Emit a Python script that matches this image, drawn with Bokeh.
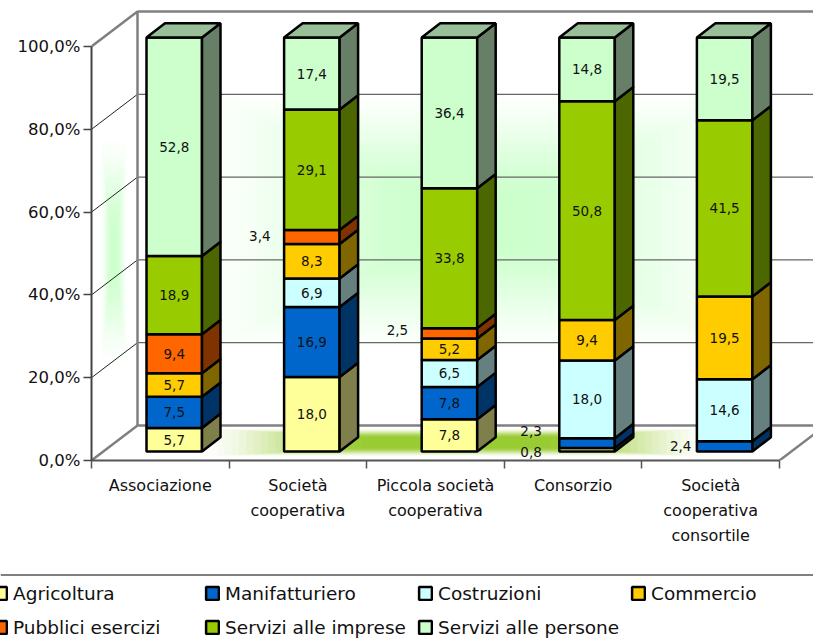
from bokeh.plotting import figure, ColumnDataSource
from bokeh.layouts import column
from bokeh.models import (Range1d, FixedTicker, LegendItem, Legend)
from bokeh.core.properties import value
from bokeh.embed import file_html
from bokeh.resources import INLINE

categories = ["Associazione", "Società\ncooperativa", "Piccola società\ncooperativa",
              "Consorzio", "Società\ncooperativa\nconsortile"]
agricoltura = [5.7, 18.0, 7.8, 0.8, 0.0]
manifatturiero = [7.5, 16.9, 7.8, 2.3, 2.4]
costruzioni = [0.0, 6.9, 6.5, 18.0, 14.6]
commercio = [5.7, 8.3, 5.2, 9.4, 19.5]
pubblici = [9.4, 3.4, 2.5, 0.0, 0.0]
imprese = [18.9, 29.1, 33.8, 50.8, 41.5]
persone = [52.8, 17.4, 36.4, 14.8, 19.5]
series_names = ["Agricoltura", "Manifatturiero", "Costruzioni", "Commercio",
                "Pubblici esercizi", "Servizi alle imprese", "Servizi alle persone"]
series_values = [agricoltura, manifatturiero, costruzioni, commercio, pubblici, imprese, persone]
series_colors = ["#FFFF99", "#0066CC", "#CCFFFF", "#FFCC00", "#FF6600", "#99CC00", "#CCFFCC"]
y_ticks = [0, 20, 40, 60, 80, 100]

FONT = "DejaVu Sans"
W, H = 813, 641
LEG_H = 81
CH = H - LEG_H
LEFT, BOTTOM_PX = 91, 460          # frame edges on the page
UX = 137.6                         # pixels per category
UY = 4.14                          # pixels per percent point
px = lambda d: d / UX
py = lambda d: d / UY
WALL_DX, WALL_DY = px(46), py(35)  # depth of the whole box
BAR_X, BAR_W = px(55), px(55.5)
BAR_Y = py(9)
BAR_DX, BAR_DY = px(18.5), py(14.3)

x_max = (W - LEFT) / UX
y_max = BOTTOM_PX / UY

p = figure(width=W, height=CH, output_backend="svg", toolbar_location=None,
           x_range=Range1d(0, x_max), y_range=Range1d(0, y_max),
           min_border_left=LEFT, min_border_right=0, min_border_top=0,
           min_border_bottom=CH - BOTTOM_PX, outline_line_color=None, frame_align=False)
p.background_fill_color = "white"
p.grid.visible = False


def shade(hex_color, k):
    r, g, b = [int(hex_color[i:i + 2], 16) for i in (1, 3, 5)]
    return "#%02x%02x%02x" % (int(r * k), int(g * k), int(b * k))


def mix(c1, c2, t):
    a = [int(c1[i:i + 2], 16) for i in (1, 3, 5)]
    b = [int(c2[i:i + 2], 16) for i in (1, 3, 5)]
    return "#%02x%02x%02x" % tuple(int(round(u + (v - u) * t)) for u, v in zip(a, b))


def glow(x0, x1, y0, y1, color, start, end, steps=28):
    """Concentric rectangles standing in for the chart's rectangular gradient."""
    for n in range(steps):
        t = n / steps
        s = min(1.0, max(0.0, (t - start) / (end - start)))
        f = s * s * (3 - 2 * s)
        hx, hy = (x1 - x0) / 2 * t, (y1 - y0) / 2 * t
        p.quad(left=x0 + hx, right=x1 - hx, bottom=y0 + hy, top=y1 - hy,
               fill_color=mix("#ffffff", color, f), line_color=None)


# walls and floor
glow(WALL_DX, x_max, py(80), py(400), "#CCFFCC", 0.1, 0.9, steps=40)
glow(px(8), px(37), py(85), py(335), "#CCFFCC", 0.0, 0.9, steps=24)
glow(px(75), px(655), py(2), py(34), "#99CC33", 0.08, 0.7, steps=40)

grid = [t for t in y_ticks if 0 < t < 100]
p.segment(x0=[0] * len(grid), y0=grid, x1=[WALL_DX] * len(grid),
          y1=[t + WALL_DY for t in grid], line_color="#222222", line_width=1)
p.segment(x0=[WALL_DX] * len(grid), y0=[t + WALL_DY for t in grid],
          x1=[x_max] * len(grid), y1=[t + WALL_DY for t in grid],
          line_color="#666666", line_width=1.2)
WALL = dict(line_color="#808080", line_width=2.5)
p.line([0, WALL_DX, WALL_DX], [100, 100 + WALL_DY, WALL_DY], **WALL)
p.line([WALL_DX, x_max], [100 + WALL_DY] * 2, **WALL)
p.line([0, WALL_DX, x_max], [0, WALL_DY, WALL_DY], **WALL)
p.line([5, 5 + WALL_DX], [0, WALL_DY], **WALL)

# stacked bars, normalised to 100%
totals = [sum(s[i] for s in series_values) for i in range(len(categories))]
cum = [0.0] * len(categories)
labels_x, labels_y, labels_t = [], [], []
# labels that do not fit inside their segment: offset left/up in pixels
outside = {(1, 4): (-52, 1), (2, 4): (-52, 3), (3, 1): (-56, 12), (3, 0): (-56, -2), (4, 1): (-44, 0)}
BAR_LINE = 2.5
for si, (vals, col) in enumerate(zip(series_values, series_colors)):
    q_data = dict(left=[], right=[], bottom=[], top=[])
    xs, ys = [], []
    for i, v in enumerate(vals):
        if v <= 0:
            continue
        h = v / totals[i] * 100
        lo, hi = BAR_Y + cum[i], BAR_Y + cum[i] + h
        l, r = i + BAR_X, i + BAR_X + BAR_W
        q_data["left"].append(l); q_data["right"].append(r)
        q_data["bottom"].append(lo); q_data["top"].append(hi)
        xs.append([r, r + BAR_DX, r + BAR_DX, r])
        ys.append([lo, lo + BAR_DY, hi + BAR_DY, hi])
        dx, dy = outside.get((i, si), (None, 0))
        labels_x.append((l + r) / 2 + (px(dx) if dx is not None else 0))
        labels_y.append((lo + hi) / 2 + py(dy))
        labels_t.append(f"{v:.1f}".replace(".", ","))
        cum[i] += h
    p.quad(source=ColumnDataSource(q_data), left="left", right="right", bottom="bottom", top="top",
           fill_color=col, line_color="black", line_width=BAR_LINE)
    p.patches(xs, ys, fill_color=shade(col, 0.5), line_color="black", line_width=BAR_LINE)
for i in range(len(categories)):
    l, r = i + BAR_X, i + BAR_X + BAR_W
    t = BAR_Y + cum[i]
    p.patch([l, r, r + BAR_DX, l + BAR_DX], [t, t, t + BAR_DY, t + BAR_DY],
            fill_color=shade(series_colors[-1], 0.75), line_color="black", line_width=BAR_LINE)

p.text(labels_x, labels_y, text=labels_t, text_align="center", text_baseline="middle",
       text_font=value(FONT), text_font_size="13.5px", text_color="#111111")

# axes
ya = p.yaxis[0]
ya.ticker = FixedTicker(ticks=y_ticks)
ya.major_label_overrides = {t: f"{t:.1f}%".replace(".", ",") for t in y_ticks}
ya.bounds = (0, 100)
ya.axis_line_color = "#444444"
ya.axis_line_width = 2
ya.major_tick_line_color = "#444444"
ya.major_tick_line_width = 1.5
ya.major_tick_in = 0
ya.major_tick_out = 8
ya.minor_tick_line_color = None
ya.major_label_standoff = 3
ya.major_label_text_font = FONT
ya.major_label_text_font_size = "16.5px"
ya.major_label_text_color = "#111111"

xa = p.xaxis[0]
xa.ticker = FixedTicker(ticks=[i + 0.5 for i in range(len(categories))],
                        minor_ticks=list(range(len(categories) + 1)))
xa.major_label_overrides = {i + 0.5: c for i, c in enumerate(categories)}
xa.bounds = (0, 5)
xa.axis_line_color = "#555555"
xa.axis_line_width = 2
xa.major_tick_line_color = None
xa.minor_tick_line_color = "#555555"
xa.minor_tick_line_width = 1.5
xa.minor_tick_in = 0
xa.minor_tick_out = 8
xa.major_label_standoff = 7
xa.major_label_orientation = "horizontal"
xa.major_label_text_font = FONT
xa.major_label_text_font_size = "16px"
xa.major_label_text_color = "#111111"
xa.major_label_text_line_height = 1.32

# separator and legend, in their own strip under the chart (one unit = one pixel)
q = figure(width=W, height=LEG_H, output_backend="svg", toolbar_location=None,
           x_range=Range1d(0, W), y_range=Range1d(0, LEG_H),
           min_border=0, outline_line_color=None, x_axis_location=None, y_axis_location=None,
           frame_align=False)
q.grid.visible = False
q.line([0, W], [LEG_H - 14.5] * 2, line_color="#808080", line_width=2)
swatches = [q.quad(left=[-30], right=[-20], bottom=[0], top=[10], fill_color=c,
                   line_color="black", line_width=2.5) for c in series_colors]
columns = [(-8, [0, 4]), (204, [1, 5]), (417, [2, 6]), (630, [3])]
for x_page, idx in columns:
    items = [LegendItem(label=value(series_names[k]), renderers=[swatches[k]]) for k in idx]
    lg = Legend(items=items, location=(x_page, 3 + (34 if len(idx) == 1 else 0)),
                border_line_color=None, background_fill_alpha=0, padding=0, margin=0, spacing=12,
                glyph_width=16, glyph_height=16, label_standoff=5, label_text_font=FONT,
                label_text_font_size="18.5px", label_text_color="#111111",
                label_height=22, click_policy="none")
    q.add_layout(lg, "center")

open("out.html", "w").write(file_html(column(p, q, spacing=0), INLINE))
